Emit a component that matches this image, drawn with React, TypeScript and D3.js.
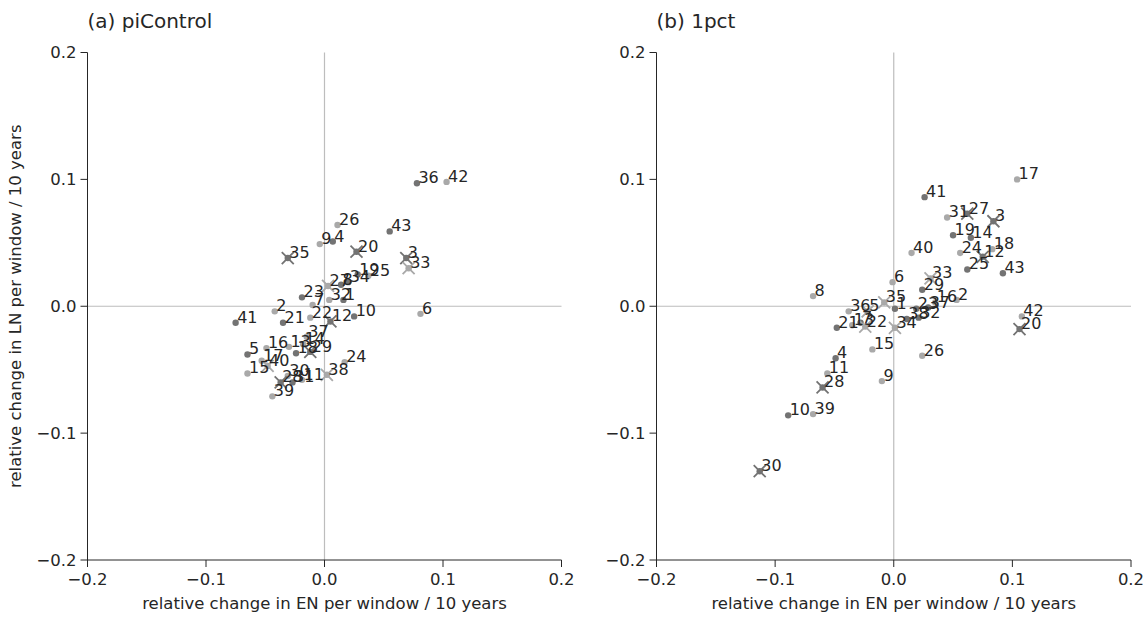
import React from "react";
import * as d3 from "d3";

// Panel (a) piControl
const aIds = [36, 42, 26, 43, 9, 4, 20, 35, 3, 33, 19, 25, 27, 8, 34, 23, 7, 32, 1, 2, 41, 21, 22, 12, 10, 6, 37, 5, 16, 13, 18, 14, 29, 17, 40, 15, 30, 28, 31, 11, 38, 24, 39];
const aEN = [0.078, 0.103, 0.011, 0.055, -0.004, 0.007, 0.027, -0.031, 0.069, 0.071, 0.028, 0.037, 0.003, 0.014, 0.020, -0.019, -0.010, 0.004, 0.016, -0.042, -0.075, -0.035, -0.012, 0.005, 0.025, 0.081, -0.015, -0.065, -0.049, -0.030, -0.024, -0.018, -0.012, -0.053, -0.048, -0.065, -0.031, -0.037, -0.027, -0.019, 0.002, 0.017, -0.044];
const aLN = [0.097, 0.098, 0.064, 0.059, 0.049, 0.051, 0.043, 0.038, 0.038, 0.030, 0.025, 0.024, 0.016, 0.017, 0.019, 0.007, 0.001, 0.005, 0.005, -0.004, -0.013, -0.013, -0.009, -0.012, -0.008, -0.006, -0.024, -0.038, -0.033, -0.032, -0.037, -0.030, -0.036, -0.043, -0.047, -0.053, -0.055, -0.060, -0.060, -0.058, -0.054, -0.044, -0.071];
const aDark = [1, 0, 0, 1, 0, 1, 1, 1, 1, 0, 1, 0, 0, 1, 1, 1, 0, 0, 1, 0, 1, 1, 0, 1, 1, 0, 0, 1, 0, 0, 1, 0, 1, 0, 0, 0, 0, 1, 1, 0, 0, 0, 0];
const aCross = [0, 0, 0, 0, 0, 0, 1, 1, 1, 1, 0, 0, 1, 0, 0, 0, 0, 0, 0, 0, 0, 0, 0, 1, 0, 0, 0, 0, 0, 0, 0, 0, 1, 0, 1, 0, 0, 1, 0, 0, 1, 0, 0];

// Panel (b) 1pct
const bIds = [17, 41, 31, 27, 3, 19, 14, 40, 24, 18, 12, 25, 43, 6, 33, 29, 8, 2, 16, 35, 1, 36, 5, 21, 13, 7, 22, 34, 38, 32, 23, 37, 15, 4, 26, 11, 9, 28, 10, 39, 30, 42, 20];
const bEN = [0.104, 0.026, 0.045, 0.062, 0.084, 0.050, 0.065, 0.015, 0.056, 0.083, 0.075, 0.062, 0.092, -0.001, 0.031, 0.024, -0.068, 0.053, 0.035, -0.008, 0.001, -0.038, -0.022, -0.048, -0.035, -0.028, -0.024, 0.001, 0.011, 0.021, 0.019, 0.029, -0.018, -0.049, 0.024, -0.056, -0.010, -0.060, -0.089, -0.068, -0.113, 0.108, 0.106];
const bLN = [0.100, 0.086, 0.070, 0.073, 0.067, 0.056, 0.054, 0.042, 0.042, 0.045, 0.039, 0.029, 0.026, 0.019, 0.022, 0.013, 0.008, 0.005, 0.003, 0.003, -0.002, -0.004, -0.004, -0.017, -0.015, -0.013, -0.016, -0.017, -0.010, -0.009, -0.002, -0.001, -0.034, -0.041, -0.039, -0.053, -0.059, -0.064, -0.086, -0.085, -0.130, -0.008, -0.018];
const bDark = [0, 1, 0, 1, 1, 1, 1, 0, 0, 0, 1, 1, 1, 0, 0, 1, 0, 0, 0, 0, 1, 0, 0, 1, 0, 1, 0, 0, 1, 1, 1, 1, 0, 1, 0, 0, 0, 1, 1, 0, 1, 0, 1];
const bCross = [0, 0, 0, 1, 1, 0, 0, 0, 0, 0, 1, 0, 0, 0, 1, 0, 0, 0, 0, 1, 0, 0, 1, 0, 0, 0, 1, 1, 0, 0, 0, 0, 0, 0, 0, 0, 0, 1, 0, 0, 1, 0, 1];

const ticks = [-0.2, -0.1, 0.0, 0.1, 0.2];
const tickLabels = ["\u22120.2", "\u22120.1", "0.0", "0.1", "0.2"];
const titles = ["(a) piControl", "(b) 1pct"];
const xLabel = "relative change in EN per window / 10 years";
const yLabel = "relative change in LN per window / 10 years";

const FONT = "DejaVu Sans, sans-serif";
const TXT = "#262626";
const DARK = "#737373";
const LIGHT = "#a9a9a9";

type PanelProps = {
  x0: number;
  x1: number;
  ids: number[];
  en: number[];
  ln: number[];
  dark: number[];
  cross: number[];
  title: string;
  showY: boolean;
};

function Panel({ x0, x1, ids, en, ln, dark, cross, title, showY }: PanelProps) {
  const x = d3.scaleLinear().domain([-0.2, 0.2]).range([x0, x1]);
  const y = d3.scaleLinear().domain([-0.2, 0.2]).range([560, 52.5]);
  const [yb, yt] = [y(-0.2), y(0.2)];
  return (
    <g>
      <text x={x0} y={28} fontSize={20} fill={TXT} fontFamily={FONT}>{title}</text>
      {/* zero lines */}
      <line x1={x(0)} x2={x(0)} y1={yt} y2={yb} stroke="#bdbdbd" strokeWidth={1.2} />
      <line x1={x0} x2={x1} y1={y(0)} y2={y(0)} stroke="#bdbdbd" strokeWidth={1.2} />
      {/* spines */}
      <line x1={x0} x2={x0} y1={yt} y2={yb} stroke={TXT} strokeWidth={1} />
      <line x1={x0} x2={x1} y1={yb} y2={yb} stroke={TXT} strokeWidth={1} />
      {ticks.map((t, i) => (
        <g key={"xt" + i}>
          <line x1={x(t)} x2={x(t)} y1={yb} y2={yb + 7} stroke={TXT} />
          <text x={x(t)} y={585} textAnchor="middle" fontSize={16.5} fill={TXT} fontFamily={FONT}>{tickLabels[i]}</text>
          <line x1={x0 - 7} x2={x0} y1={y(t)} y2={y(t)} stroke={TXT} />
          <text x={x0 - 11} y={y(t)} dy="0.36em" textAnchor="end" fontSize={16.5} fill={TXT} fontFamily={FONT}>{tickLabels[i]}</text>
        </g>
      ))}
      <text x={(x0 + x1) / 2} y={609} textAnchor="middle" fontSize={16.5} fill={TXT} fontFamily={FONT}>{xLabel}</text>
      {showY && (
        <text transform={`translate(21,${y(0)}) rotate(-90)`} textAnchor="middle" fontSize={16.5} fill={TXT} fontFamily={FONT}>{yLabel}</text>
      )}
      {ids.map((id, i) => (
        <circle key={"c" + id} cx={x(en[i])} cy={y(ln[i])} r={3.2} fill={dark[i] ? DARK : LIGHT} />
      ))}
      {ids.map((id, i) =>
        cross[i] ? (
          <path
            key={"x" + id}
            d={`M${x(en[i]) - 6},${y(ln[i]) - 6}L${x(en[i]) + 6},${y(ln[i]) + 6}M${x(en[i]) - 6},${y(ln[i]) + 6}L${x(en[i]) + 6},${y(ln[i]) - 6}`}
            stroke={dark[i] ? DARK : LIGHT}
            strokeWidth={1.8}
            fill="none"
          />
        ) : null
      )}
      {ids.map((id, i) => (
        <text key={"t" + id} x={x(en[i]) + 1.5} y={y(ln[i])} fontSize={16} fill={TXT} fontFamily={FONT}>{id}</text>
      ))}
    </g>
  );
}

export default function App() {
  return (
    <svg width={1148} height={617} style={{ position: "absolute", left: 0, top: 0, background: "#fff" }}>
      <rect width={1148} height={617} fill="#fff" />
      <Panel x0={87.5} x1={561.5} ids={aIds} en={aEN} ln={aLN} dark={aDark} cross={aCross} title={titles[0]} showY={true} />
      <Panel x0={656.5} x1={1131} ids={bIds} en={bEN} ln={bLN} dark={bDark} cross={bCross} title={titles[1]} showY={false} />
    </svg>
  );
}
